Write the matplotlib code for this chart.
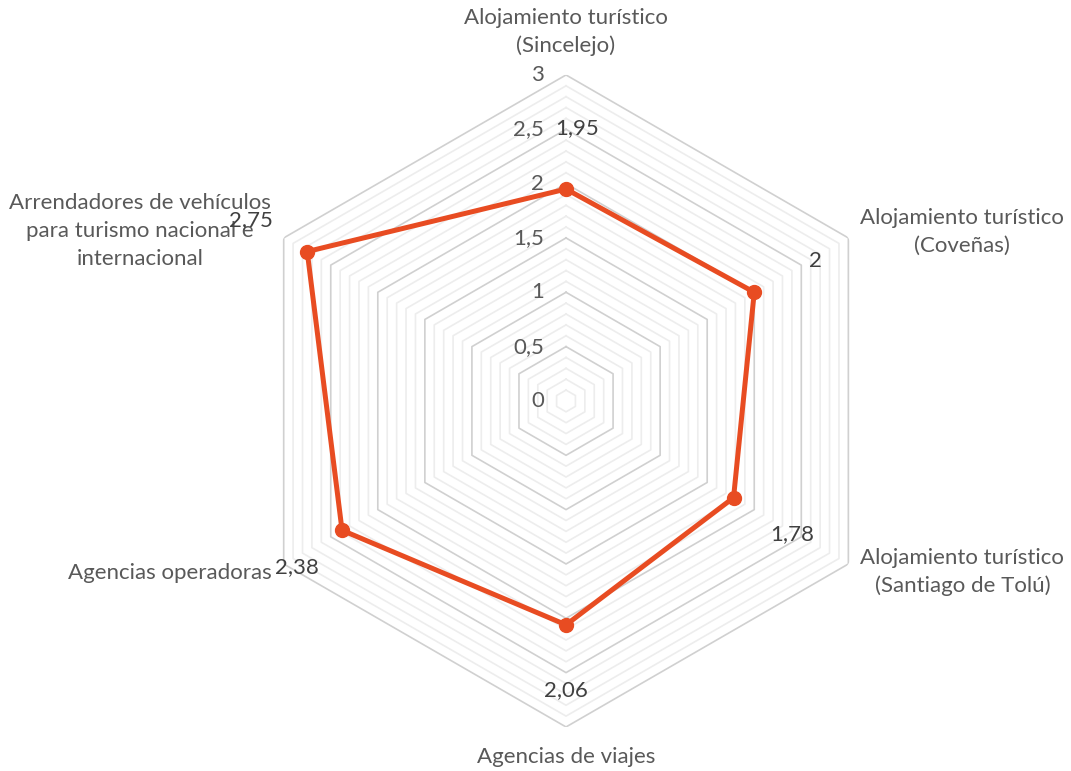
import numpy as np
import matplotlib

matplotlib.use('Agg')
import matplotlib.pyplot as plt

# Datos
categorias = [
    "Alojamiento turístico\n(Sincelejo)",
    "Alojamiento turístico\n(Coveñas)",
    "Alojamiento turístico\n(Santiago de Tolú)",
    "Agencias de viajes",
    "Agencias operadoras",
    "Arrendadores de vehículos\npara turismo nacional e\ninternacional",
]
valores = [1.95, 2.0, 1.78, 2.06, 2.38, 2.75]
etiquetas_valor = ["1,95", "2", "1,78", "2,06", "2,38", "2,75"]
ticks = [0, 0.5, 1, 1.5, 2, 2.5, 3]
ticks_txt = ["0", "0,5", "1", "1,5", "2", "2,5", "3"]

plt.rcParams['font.family'] = ['Lato', 'DejaVu Sans']

COLOR = '#E84C22'
GRIS_TXT = '#595959'
FS = 16

n = len(categorias)
angulos = np.linspace(0, 2 * np.pi, n, endpoint=False)

fig = plt.figure(figsize=(10.71, 7.71), dpi=100)
ax = fig.add_axes([0.2241, 0.0571, 0.6088, 0.8457], projection='polar')
ax.set_theta_offset(np.pi / 2)
ax.set_theta_direction(-1)
ax.set_ylim(0, 3)
ax.set_xticks([])
ax.set_yticks([])
ax.grid(False)
ax.spines['polar'].set_visible(False)

# Rejilla hexagonal: principales cada 0,5 y secundarias cada 0,1
ang_cerrado = np.append(angulos, angulos[0])
for k in range(1, 31):
    nivel = k / 10
    mayor = k % 5 == 0
    ax.plot(ang_cerrado, [nivel] * (n + 1),
            color='#D0D0D0' if mayor else '#EDEDED',
            lw=1.2, zorder=1 if mayor else 0.5)

# Etiquetas del eje radial
for t, txt in zip(ticks, ticks_txt):
    ax.annotate(txt, xy=(0, t), xytext=(-22, 0), textcoords='offset pixels',
                ha='right', va='center', fontsize=FS, color=GRIS_TXT)

# Serie
vals_cerrado = valores + valores[:1]
ax.plot(ang_cerrado, vals_cerrado, color=COLOR, lw=3.6, zorder=3,
        solid_joinstyle='miter')
ax.plot(angulos, valores, 'o', color=COLOR, ms=10, zorder=4)

# Etiquetas de datos
desplaz_valor = [(11, 61), (61, 31), (59, -36), (0, -65), (-45, -37), (-56, 31)]
for a, v, txt, d in zip(angulos, valores, etiquetas_valor, desplaz_valor):
    ax.annotate(txt, xy=(a, v), xytext=d, textcoords='offset pixels',
                ha='center', va='center', fontsize=FS, color='#404040', zorder=5)

# Nombres de categorías
desplaz_cat = [(0, 43), (114, 6), (114, -8), (0, -30), (-114, -9), (-144, 7)]
for a, cat, d in zip(angulos, categorias, desplaz_cat):
    ax.annotate(cat, xy=(a, 3), xytext=d, textcoords='offset pixels',
                ha='center', va='center', fontsize=FS, color=GRIS_TXT,
                linespacing=1.5, annotation_clip=False)

fig.savefig('out.png', dpi=100)
plt.close(fig)
